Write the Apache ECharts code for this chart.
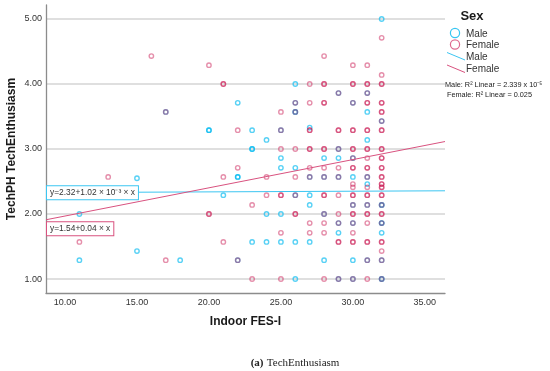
<!DOCTYPE html>
<html><head><meta charset="utf-8">
<script src="https://cdn.jsdelivr.net/npm/echarts@6/dist/echarts.min.js"></script>
<style>html,body{margin:0;padding:0;background:#fff}#c{width:550px;height:371px}</style>
</head><body><div id="c"></div>
<script>
const xTicks = [10, 15, 20, 25, 30, 35];
const yTicks = [1, 2, 3, 4, 5];
const xRange = [8.68, 36.4];
const yRange = [0.785, 5.215];
const maleFit = [2.32, 0.00102];
const femaleFit = [1.535, 0.0434];
const maleEq = 'y=2.32+1.02 × 10⁻³ × x';
const femaleEq = 'y=1.54+0.04 × x';

const maleData = [
  [11,2.00],[11,1.29],
  [15,2.55],[15,1.43],
  [17,3.57],[18,1.29],
  [20,3.29],[20,3.29],
  [21,2.29],
  [22,3.71],[22,2.57],[22,2.57],[22,1.29],
  [23,3.29],[23,3.00],[23,3.00],[23,1.57],
  [24,3.14],[24,2.00],[24,1.57],
  [25,3.29],[25,2.86],[25,2.71],[25,2.00],[25,1.57],
  [26,4.00],[26,3.71],[26,3.57],[26,3.57],[26,2.71],[26,2.29],[26,1.57],[26,1.00],
  [27,3.33],[27,2.57],[27,2.29],[27,2.14],[27,1.57],
  [28,2.86],[28,2.57],[28,2.00],[28,1.29],
  [29,3.86],[29,3.00],[29,2.86],[29,2.57],[29,1.86],[29,1.71],[29,1.00],
  [30,3.71],[30,2.86],[30,2.57],[30,2.14],[30,1.86],[30,1.29],[30,1.00],
  [31,3.86],[31,3.57],[31,3.14],[31,2.57],[31,2.46],[31,2.14],[31,1.29],
  [32,5.00],[32,3.43],[32,2.14],[32,2.14],[32,1.86],[32,1.86],[32,1.71],[32,1.29],[32,1.00],[32,1.00]
];

const femaleData = [
  [11,1.57],[13,2.57],[16,4.43],[17,3.57],[17,1.29],
  [20,4.29],[20,2.00],[20,2.00],
  [21,4.00],[21,4.00],[21,2.57],[21,1.57],
  [22,3.29],[22,2.71],[22,1.29],
  [23,2.14],[23,1.00],
  [24,2.57],[24,2.29],
  [25,3.57],[25,3.29],[25,3.00],[25,2.29],[25,2.29],[25,1.71],[25,1.00],
  [26,3.71],[26,3.57],[26,3.00],[26,2.57],[26,2.29],[26,2.00],[26,2.00],
  [27,4.00],[27,3.71],[27,3.29],[27,3.29],[27,3.00],[27,3.00],[27,2.71],[27,2.57],[27,1.86],[27,1.71],
  [28,4.43],[28,4.00],[28,4.00],[28,3.71],[28,3.71],[28,3.00],[28,3.00],[28,2.71],[28,2.57],[28,2.29],[28,2.29],[28,2.00],[28,1.86],[28,1.71],[28,1.00],
  [29,3.86],[29,3.29],[29,3.29],[29,3.00],[29,2.71],[29,2.57],[29,2.29],[29,2.00],[29,1.86],[29,1.57],[29,1.57],[29,1.00],
  [30,4.29],[30,4.00],[30,4.00],[30,3.71],[30,3.29],[30,3.29],[30,3.00],[30,3.00],[30,2.86],[30,2.71],[30,2.71],[30,2.46],[30,2.41],[30,2.29],[30,2.29],[30,2.14],[30,2.00],[30,2.00],[30,1.86],[30,1.71],[30,1.57],[30,1.57],[30,1.00],
  [31,4.29],[31,4.00],[31,4.00],[31,3.86],[31,3.71],[31,3.71],[31,3.29],[31,3.29],[31,3.00],[31,3.00],[31,2.86],[31,2.71],[31,2.71],[31,2.57],[31,2.41],[31,2.29],[31,2.29],[31,2.14],[31,2.00],[31,2.00],[31,1.86],[31,1.57],[31,1.57],[31,1.29],[31,1.00],
  [32,4.71],[32,4.14],[32,4.00],[32,4.00],[32,3.71],[32,3.71],[32,3.57],[32,3.57],[32,3.43],[32,3.29],[32,3.29],[32,3.00],[32,3.00],[32,2.86],[32,2.86],[32,2.71],[32,2.71],[32,2.57],[32,2.57],[32,2.46],[32,2.46],[32,2.41],[32,2.41],[32,2.29],[32,2.29],[32,2.14],[32,2.00],[32,2.00],[32,1.86],[32,1.57],[32,1.57],[32,1.43],[32,1.29],[32,1.00]
];

const FONT = '"Liberation Sans", Arial, sans-serif';
const maleStroke = 'rgba(0,185,240,0.82)';
const femaleStroke = 'rgba(200,20,80,0.6)';
const maleLine = '#3cc6f2';
const femaleLine = '#d9527f';

function fitLine(c) {
  return xRange.map(x => [x, c[0] + c[1] * x]);
}

const chart = echarts.init(document.getElementById('c'), null, {renderer: 'canvas'});

const option = {
  animation: false,
  backgroundColor: '#fff',
  grid: {left: 46, right: 105, top: 5, bottom: 78, outerBoundsMode: 'none', containLabel: false},
  xAxis: {
    type: 'value', min: xRange[0], max: xRange[1],
    name: 'Indoor FES-I', nameLocation: 'middle', nameGap: 23, nameMoveOverlap: false,
    nameTextStyle: {fontFamily: FONT, fontWeight: 'bold', fontSize: 12, color: '#1a1a1a'},
    axisLine: {show: true, onZero: false, lineStyle: {color: '#8c8c8c', width: 1.3}},
    axisTick: {show: false, customValues: xTicks},
    axisLabel: {customValues: xTicks, formatter: v => Number(v).toFixed(2), fontFamily: FONT, fontSize: 9, color: '#333', margin: 5},
    splitLine: {show: false}
  },
  yAxis: {
    type: 'value', min: yRange[0], max: yRange[1],
    name: 'TechPH TechEnthusiasm', nameLocation: 'middle', nameGap: 28, nameRotate: 90, nameMoveOverlap: false,
    nameTextStyle: {fontFamily: FONT, fontWeight: 'bold', fontSize: 12, color: '#1a1a1a'},
    axisLine: {show: true, onZero: false, lineStyle: {color: '#8c8c8c', width: 1.3}},
    axisTick: {show: false, customValues: yTicks},
    axisLabel: {customValues: yTicks, formatter: v => Number(v).toFixed(2), fontFamily: FONT, fontSize: 9, color: '#333', margin: 4},
    splitLine: {show: true, lineStyle: {color: '#d4d4d4', width: 1.5}}
  },
  series: [
    {name: 'Male', type: 'scatter', data: maleData, symbol: 'circle', symbolSize: 4.4, silent: true, z: 2,
     itemStyle: {color: 'rgba(0,0,0,0)', borderColor: maleStroke, borderWidth: 1.4}},
    {name: 'Female', type: 'scatter', data: femaleData, symbol: 'circle', symbolSize: 4.4, silent: true, z: 3,
     itemStyle: {color: 'rgba(0,0,0,0)', borderColor: femaleStroke, borderWidth: 1.4}},
    {name: 'Male fit', type: 'line', data: fitLine(maleFit), symbol: 'none', silent: true, z: 4,
     lineStyle: {color: maleLine, width: 1}},
    {name: 'Female fit', type: 'line', data: fitLine(femaleFit), symbol: 'none', silent: true, z: 4,
     lineStyle: {color: femaleLine, width: 1}}
  ]
};
chart.setOption(option);

const pm = chart.convertToPixel({gridIndex: 0}, fitLine(maleFit)[0]);
const pf = chart.convertToPixel({gridIndex: 0}, fitLine(femaleFit)[0]);
const gx = pm[0] + 1;

const graphics = [
  {type: 'text', x: 472, y: 16, z: 10, style: {text: 'Sex', font: 'bold 13px ' + FONT, fill: '#1a1a1a', textAlign: 'center', textVerticalAlign: 'middle'}},
  {type: 'circle', z: 10, shape: {cx: 455, cy: 33, r: 4.6}, style: {fill: 'none', stroke: '#35c5f2', lineWidth: 1.2}},
  {type: 'text', x: 466, y: 34, z: 10, style: {text: 'Male', font: '10px ' + FONT, fill: '#333', textVerticalAlign: 'middle'}},
  {type: 'circle', z: 10, shape: {cx: 455, cy: 44.5, r: 4.6}, style: {fill: 'none', stroke: '#dd6a90', lineWidth: 1.2}},
  {type: 'text', x: 466, y: 45.5, z: 10, style: {text: 'Female', font: '10px ' + FONT, fill: '#333', textVerticalAlign: 'middle'}},
  {type: 'line', z: 10, shape: {x1: 447, y1: 52.5, x2: 465, y2: 60}, style: {stroke: maleLine, lineWidth: 1}},
  {type: 'text', x: 466, y: 57.5, z: 10, style: {text: 'Male', font: '10px ' + FONT, fill: '#333', textVerticalAlign: 'middle'}},
  {type: 'line', z: 10, shape: {x1: 447, y1: 65, x2: 465, y2: 72.5}, style: {stroke: femaleLine, lineWidth: 1}},
  {type: 'text', x: 466, y: 69.5, z: 10, style: {text: 'Female', font: '10px ' + FONT, fill: '#333', textVerticalAlign: 'middle'}},
  {type: 'text', x: 445, y: 85, z: 10, style: {text: 'Male: R² Linear = 2.339 x 10⁻⁵', font: '7.3px ' + FONT, fill: '#222', textVerticalAlign: 'middle'}},
  {type: 'text', x: 447, y: 95, z: 10, style: {text: 'Female: R² Linear = 0.025', font: '7.3px ' + FONT, fill: '#222', textVerticalAlign: 'middle'}},
  {type: 'text', x: gx, y: pm[1], z: 10, style: {text: maleEq, font: '8.4px ' + FONT, fill: '#333', textVerticalAlign: 'middle',
     backgroundColor: '#fff', borderColor: maleLine, borderWidth: 1, padding: [3, 3, 2, 3]}},
  {type: 'text', x: gx, y: pf[1] + 9, z: 10, style: {text: femaleEq, font: '8.4px ' + FONT, fill: '#333', textVerticalAlign: 'middle',
     backgroundColor: '#fff', borderColor: femaleLine, borderWidth: 1, padding: [3, 3, 2, 3]}},
  {type: 'text', x: 295, y: 363, z: 10, style: {text: '{b|(a)} {n|TechEnthusiasm}', textAlign: 'center', textVerticalAlign: 'middle',
     rich: {b: {fontFamily: '"Liberation Serif", serif', fontWeight: 'bold', fontSize: 11, fill: '#222'},
            n: {fontFamily: '"Liberation Serif", serif', fontSize: 11, fill: '#222'}}}}
];
chart.setOption({graphic: graphics});
</script></body></html>
